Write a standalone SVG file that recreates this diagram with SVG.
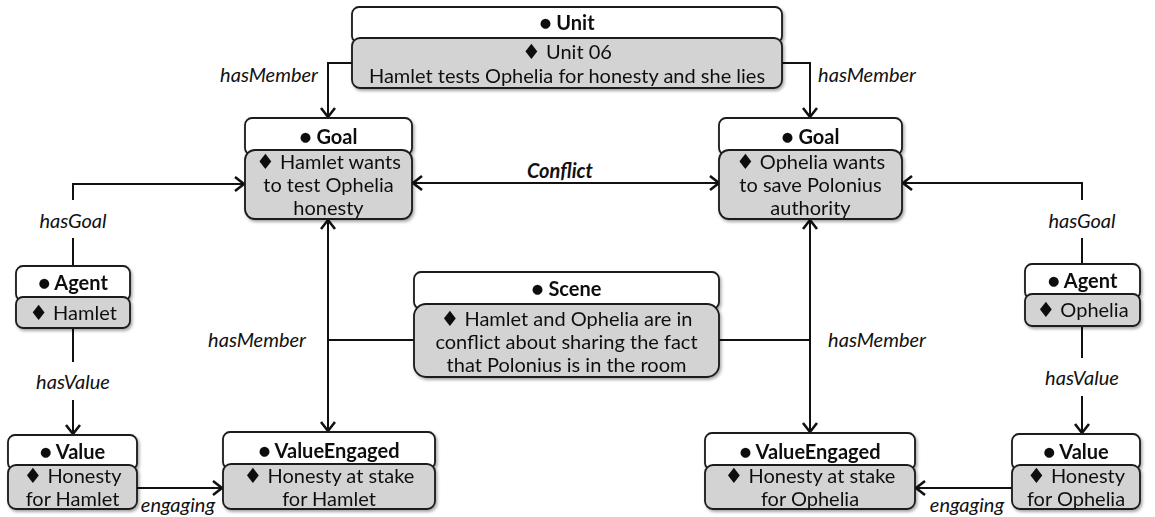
<svg xmlns="http://www.w3.org/2000/svg" width="1155" height="517" viewBox="0 0 1155 517">
<style>
.h{fill:#ffffff;stroke:#1a1a1a;stroke-width:1.8}
.b{fill:#d3d3d3;stroke:#1a1a1a;stroke-width:1.8}
.t{font-family:Lato,"Open Sans","Liberation Sans",sans-serif;font-size:20px;fill:#111;text-anchor:middle}
.tb{font-weight:bold}
.d{font-family:"DejaVu Sans",sans-serif;font-size:21px}
.lab{font-family:Lato,"Open Sans","Liberation Sans",sans-serif;font-size:20px;font-style:italic;fill:#111;text-anchor:middle}
.c{fill:none;stroke:#111;stroke-width:2}
</style>
<defs>
<marker id="ae" markerUnits="userSpaceOnUse" markerWidth="16" markerHeight="18" refX="12" refY="8" orient="auto">
<path d="M3,1 L12,8 L3,15" fill="none" stroke="#111" stroke-width="2.6"/>
</marker>
<marker id="as" markerUnits="userSpaceOnUse" markerWidth="16" markerHeight="18" refX="12" refY="8" orient="auto-start-reverse">
<path d="M3,1 L12,8 L3,15" fill="none" stroke="#111" stroke-width="2.6"/>
</marker>
<filter id="sh" x="-10%" y="-10%" width="120%" height="130%">
<feDropShadow dx="1.5" dy="2" stdDeviation="1.5" flood-color="#000" flood-opacity="0.35"/>
</filter>
</defs>

<g id="connectors">
<path class="c" d="M352,63 H328 V117" marker-end="url(#ae)"/>
<path class="c" d="M782,63 H810 V117" marker-end="url(#ae)"/>
<path class="c" d="M413,183 H719" marker-start="url(#as)" marker-end="url(#ae)"/>
<path class="c" d="M73,266 V238"/>
<path class="c" d="M73,200 V184 H244" marker-end="url(#ae)"/>
<path class="c" d="M1082,264 V238"/>
<path class="c" d="M1082,200 V183 H903" marker-end="url(#ae)"/>
<path class="c" d="M73,327 V362"/>
<path class="c" d="M73,400 V434" marker-end="url(#ae)"/>
<path class="c" d="M1082,326 V358"/>
<path class="c" d="M1082,396 V433" marker-end="url(#ae)"/>
<path class="c" d="M328,220 V431" marker-start="url(#as)" marker-end="url(#ae)"/>
<path class="c" d="M810,220 V432" marker-start="url(#as)" marker-end="url(#ae)"/>
<path class="c" d="M328,340 H414"/>
<path class="c" d="M719,340 H810"/>
<path class="c" d="M137,488 H222" marker-end="url(#ae)"/>
<path class="c" d="M1012,488 H916" marker-end="url(#ae)"/>
<text class="lab" x="269" y="82">hasMember</text>
<text class="lab" x="867" y="82">hasMember</text>
<text class="lab tb" x="560" y="178">Conflict</text>
<text class="lab" x="73" y="228">hasGoal</text>
<text class="lab" x="1082" y="228">hasGoal</text>
<text class="lab" x="73" y="389">hasValue</text>
<text class="lab" x="1082" y="385">hasValue</text>
<text class="lab" x="257" y="347">hasMember</text>
<text class="lab" x="877" y="347">hasMember</text>
<text class="lab" x="178" y="512">engaging</text>
<text class="lab" x="967" y="512">engaging</text>
</g>

<g id="unit" filter="url(#sh)">
<rect class="h" x="352" y="7" width="430" height="36" rx="7"/>
<rect class="b" x="352" y="38" width="430" height="50" rx="8"/>
<text class="t tb" x="567" y="30">● Unit</text>
<text class="t" x="567" y="59"><tspan class="d">♦</tspan> Unit 06</text>
<text class="t" x="567" y="83">Hamlet tests Ophelia for honesty and she lies</text>
</g>

<g id="goal-hamlet" filter="url(#sh)">
<rect class="h" x="245" y="118" width="167" height="37" rx="7"/>
<rect class="b" x="245" y="150" width="167" height="69" rx="10"/>
<text class="t tb" x="328.5" y="144">● Goal</text>
<text class="t" x="328.5" y="169"><tspan class="d">♦</tspan> Hamlet wants</text>
<text class="t" x="328.5" y="192">to test Ophelia</text>
<text class="t" x="328.5" y="215">honesty</text>
</g>

<g id="goal-ophelia" filter="url(#sh)">
<rect class="h" x="719" y="118" width="183" height="37" rx="7"/>
<rect class="b" x="719" y="150" width="183" height="69" rx="10"/>
<text class="t tb" x="810.5" y="144">● Goal</text>
<text class="t" x="810.5" y="169"><tspan class="d">♦</tspan> Ophelia wants</text>
<text class="t" x="810.5" y="192">to save Polonius</text>
<text class="t" x="810.5" y="215">authority</text>
</g>

<g id="agent-hamlet" filter="url(#sh)">
<rect class="h" x="16" y="266" width="114" height="35" rx="7"/>
<rect class="b" x="16" y="297" width="114" height="31" rx="7"/>
<text class="t tb" x="73" y="290">● Agent</text>
<text class="t" x="73" y="320"><tspan class="d">♦</tspan> Hamlet</text>
</g>

<g id="agent-ophelia" filter="url(#sh)">
<rect class="h" x="1025" y="264" width="115" height="35" rx="7"/>
<rect class="b" x="1025" y="294" width="115" height="32" rx="7"/>
<text class="t tb" x="1082.5" y="288">● Agent</text>
<text class="t" x="1082.5" y="317"><tspan class="d">♦</tspan> Ophelia</text>
</g>

<g id="scene" filter="url(#sh)">
<rect class="h" x="414" y="272" width="305" height="37" rx="7"/>
<rect class="b" x="414" y="304" width="305" height="73" rx="12"/>
<text class="t tb" x="566.5" y="296">● Scene</text>
<text class="t" x="566.5" y="326"><tspan class="d">♦</tspan> Hamlet and Ophelia are in</text>
<text class="t" x="566.5" y="349">conflict about sharing the fact</text>
<text class="t" x="566.5" y="372">that Polonius is in the room</text>
</g>

<g id="value-hamlet" filter="url(#sh)">
<rect class="h" x="8" y="435" width="129" height="35" rx="7"/>
<rect class="b" x="8" y="465" width="129" height="44" rx="8"/>
<text class="t tb" x="72.5" y="459">● Value</text>
<text class="t" x="72.5" y="483"><tspan class="d">♦</tspan> Honesty</text>
<text class="t" x="72.5" y="506">for Hamlet</text>
</g>

<g id="valueengaged-hamlet" filter="url(#sh)">
<rect class="h" x="223" y="432" width="212" height="37" rx="7"/>
<rect class="b" x="223" y="464" width="212" height="45" rx="8"/>
<text class="t tb" x="329" y="458">● ValueEngaged</text>
<text class="t" x="329" y="483"><tspan class="d">♦</tspan> Honesty at stake</text>
<text class="t" x="329" y="506">for Hamlet</text>
</g>

<g id="valueengaged-ophelia" filter="url(#sh)">
<rect class="h" x="705" y="433" width="210" height="37" rx="7"/>
<rect class="b" x="705" y="465" width="210" height="44" rx="8"/>
<text class="t tb" x="810" y="459">● ValueEngaged</text>
<text class="t" x="810" y="483"><tspan class="d">♦</tspan> Honesty at stake</text>
<text class="t" x="810" y="506">for Ophelia</text>
</g>

<g id="value-ophelia" filter="url(#sh)">
<rect class="h" x="1012" y="434" width="128" height="36" rx="7"/>
<rect class="b" x="1012" y="465" width="128" height="44" rx="8"/>
<text class="t tb" x="1076" y="459">● Value</text>
<text class="t" x="1076" y="483"><tspan class="d">♦</tspan> Honesty</text>
<text class="t" x="1076" y="506">for Ophelia</text>
</g>
</svg>
